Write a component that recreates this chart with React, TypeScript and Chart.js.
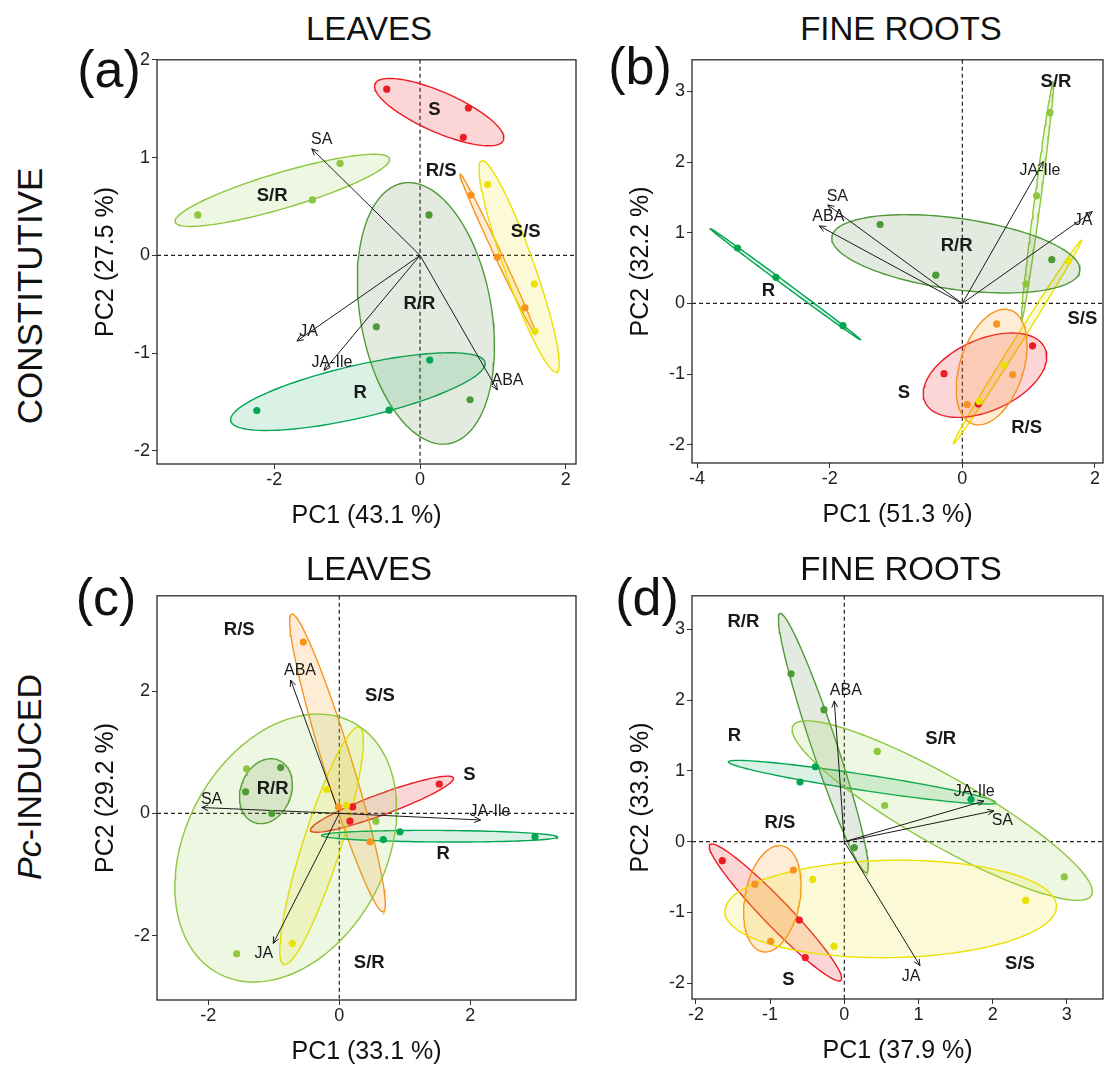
import React, { useEffect, useRef } from 'react';
import { Chart, registerables } from 'chart.js';

Chart.register(...registerables);

const FONT = '"Liberation Sans", Arial, Helvetica, sans-serif';

// Scion/rootstock groups, drawn in this order
const GROUPS = ['S/R', 'R/R', 'R', 'S/S', 'R/S', 'S'];

const GROUP_COLORS: Record<string, string> = {
  'S': '#ec1c24',
  'R/S': '#f7941d',
  'S/S': '#ebe100',
  'S/R': '#8dc63f',
  'R/R': '#4f9a38',
  'R': '#00a651',
};

const GROUP_FILLS: Record<string, string> = {
  'S': 'rgba(236,28,36,0.18)',
  'R/S': 'rgba(247,148,29,0.18)',
  'S/S': 'rgba(235,225,0,0.16)',
  'S/R': 'rgba(141,198,63,0.15)',
  'R/R': 'rgba(79,125,56,0.16)',
  'R': 'rgba(0,166,81,0.15)',
};

type Score = [string, number, number];
// group, centre x, centre y, major semi-axis x, major semi-axis y, minor/major ratio
type Ellipse = [string, number, number, number, number, number];
// hormone, arrow tip x, arrow tip y, label x, label y
type Loading = [string, number, number, number, number];
type GroupLabel = [string, number, number];

// ---------- (a) leaves, constitutive ----------
const leafConstXTicks = [-2, 0, 2];
const leafConstYTicks = [-2, -1, 0, 1, 2];
const leafConstScores: Score[] = [
  ['S', -0.457, 1.70], ['S', 0.663, 1.507], ['S', 0.594, 1.207],
  ['S/R', -3.05, 0.414], ['S/R', -1.477, 0.567], ['S/R', -1.097, 0.94],
  ['R/R', 0.123, 0.414], ['R/R', -0.60, -0.73], ['R/R', 0.686, -1.476],
  ['R', -2.24, -1.586], ['R', -0.425, -1.583], ['R', 0.133, -1.07],
  ['R/S', 0.70, 0.617], ['R/S', 1.06, -0.02], ['R/S', 1.44, -0.536],
  ['S/S', 0.928, 0.724], ['S/S', 1.568, -0.293], ['S/S', 1.578, -0.776],
];
const leafConstEllipses: Ellipse[] = [
  ['S/R', -1.89, 0.665, 1.47, 0.325, 0.163],
  ['R/R', 0.08, -0.593, -0.31, 1.333, 0.486],
  ['R', -0.853, -1.393, 1.745, 0.3, 0.205],
  ['S/S', 1.36, -0.113, -0.515, 1.08, 0.13],
  ['R/S', 1.063, 0.02, -0.515, 0.814, 0.04],
  ['S', 0.263, 1.465, 0.88, -0.29, 0.29],
];
const leafConstLoadings: Loading[] = [
  ['SA', -1.486, 1.09, -1.35, 1.18],
  ['JA', -1.69, -0.876, -1.53, -0.776],
  ['JA-Ile', -1.317, -1.176, -1.21, -1.10],
  ['ABA', 1.06, -1.376, 1.2, -1.276],
];
const leafConstGroupLabels: GroupLabel[] = [
  ['S', 0.196, 1.49], ['S/R', -2.03, 0.607], ['R/S', 0.288, 0.864],
  ['S/S', 1.45, 0.24], ['R/R', -0.01, -0.5], ['R', -0.823, -1.41],
];

// ---------- (b) fine roots, constitutive ----------
const rootConstXTicks = [-4, -2, 0, 2];
const rootConstYTicks = [-2, -1, 0, 1, 2, 3];
const rootConstScores: Score[] = [
  ['R', -3.39, 0.785], ['R', -2.81, 0.37], ['R', -1.80, -0.314],
  ['R/R', -1.24, 1.117], ['R/R', -0.40, 0.40], ['R/R', 1.35, 0.62],
  ['S/R', 0.96, 0.277], ['S/R', 1.12, 1.524], ['S/R', 1.323, 2.70],
  ['S/S', 1.60, 0.60], ['S/S', 0.634, -0.877], ['S/S', 0.252, -1.385],
  ['S', -0.276, -0.993], ['S', 1.06, -0.60], ['S', 0.242, -1.422],
  ['R/S', 0.518, -0.29], ['R/S', 0.76, -1.006], ['R/S', 0.075, -1.43],
];
const rootConstEllipses: Ellipse[] = [
  ['R/R', -0.097, 0.703, 1.87, -0.243, 0.29],
  ['R', -2.674, 0.277, -1.131, 0.785, 0.02],
  ['S/R', 1.134, 1.455, 0.238, 1.685, 0.025],
  ['R/S', 0.443, -0.90, 0.276, 0.808, 0.52],
  ['S', 0.342, -1.015, 0.902, 0.386, 0.55],
  ['S/S', 0.832, -0.543, 0.968, 1.443, 0.03],
];
const rootConstLoadings: Loading[] = [
  ['SA', -2.03, 1.395, -1.885, 1.514],
  ['ABA', -2.157, 1.098, -2.02, 1.223],
  ['JA-Ile', 1.222, 2.008, 1.17, 1.88],
  ['JA', 1.96, 1.30, 1.82, 1.17],
];
const rootConstGroupLabels: GroupLabel[] = [
  ['S/R', 1.413, 3.14], ['R/R', -0.085, 0.817], ['R', -2.926, 0.184],
  ['S/S', 1.81, -0.22], ['S', -0.88, -1.27], ['R/S', 0.97, -1.755],
];

// ---------- (c) leaves, Pc-induced ----------
const leafIndXTicks = [-2, 0, 2];
const leafIndYTicks = [-2, 0, 2];
const leafIndScores: Score[] = [
  ['R/S', -0.55, 2.80], ['R/S', 0.47, -0.465], ['R/S', -0.015, 0.106],
  ['S/S', -0.19, 0.39], ['S/S', -0.717, -2.125], ['S/S', 0.11, 0.133],
  ['S/R', -1.414, 0.727], ['S/R', -1.567, -2.295], ['S/R', 0.56, -0.128],
  ['R/R', -0.895, 0.748], ['R/R', -1.43, 0.353], ['R/R', -1.03, 0.0],
  ['S', 1.527, 0.48], ['S', 0.204, 0.106], ['S', 0.163, -0.128],
  ['R', 0.927, -0.30], ['R', 0.672, -0.428], ['R', 2.988, -0.385],
];
const leafIndEllipses: Ellipse[] = [
  ['S/R', -0.817, -0.567, 1.0, 2.067, 0.693],
  ['R/R', -1.12, 0.363, 0.178, 0.513, 0.74],
  ['R', 1.53, -0.373, 1.80, -0.012, 0.05],
  ['S/S', -0.27, -0.53, 0.575, 1.94, 0.15],
  ['R/S', -0.027, 0.825, -0.70, 2.435, 0.09],
  ['S', 0.652, 0.15, 1.09, 0.43, 0.14],
];
const leafIndLoadings: Loading[] = [
  ['ABA', -0.742, 2.18, -0.60, 2.34],
  ['SA', -2.10, 0.096, -1.95, 0.23],
  ['JA-Ile', 2.158, -0.108, 2.30, 0.026],
  ['JA', -1.008, -2.125, -1.15, -2.285],
];
const leafIndGroupLabels: GroupLabel[] = [
  ['R/S', -1.527, 2.995], ['S/S', 0.621, 1.915], ['S', 1.985, 0.63],
  ['R/R', -1.017, 0.406], ['R', 1.588, -0.664], ['S/R', 0.458, -2.446],
];

// ---------- (d) fine roots, Pc-induced ----------
const rootIndXTicks = [-2, -1, 0, 1, 2, 3];
const rootIndYTicks = [-2, -1, 0, 1, 2, 3];
const rootIndScores: Score[] = [
  ['R/R', -0.718, 2.373], ['R/R', -0.274, 1.867], ['R/R', 0.135, -0.083],
  ['R', -0.597, 0.843], ['R', -0.39, 1.06], ['R', 1.708, 0.6],
  ['S/R', 0.445, 1.277], ['S/R', 0.544, 0.512], ['S/R', 2.965, -0.498],
  ['S/S', -0.426, -0.531], ['S/S', -0.139, -1.476], ['S/S', 2.444, -0.83],
  ['S', -1.644, -0.268], ['S', -0.606, -1.107], ['S', -0.526, -1.637],
  ['R/S', -0.687, -0.401], ['R/S', -1.204, -0.60], ['R/S', -0.992, -1.407],
];
const rootIndEllipses: Ellipse[] = [
  ['S/S', 0.625, -0.95, 2.235, 0.04, 0.3],
  ['S/R', 1.32, 0.44, 2.01, -1.20, 0.2],
  ['R/R', -0.283, 1.395, -0.584, 1.832, 0.09],
  ['R', 0.24, 0.841, 1.80, -0.288, 0.06],
  ['R/S', -0.97, -0.807, 0.129, 0.749, 0.5],
  ['S', -0.927, -1.0, 0.883, -0.96, 0.14],
];
const rootIndLoadings: Loading[] = [
  ['ABA', -0.135, 1.99, 0.02, 2.13],
  ['JA-Ile', 1.883, 0.575, 1.75, 0.705],
  ['SA', 2.017, 0.437, 2.13, 0.30],
  ['JA', 1.02, -1.752, 0.9, -1.905],
];
const rootIndGroupLabels: GroupLabel[] = [
  ['R/R', -1.36, 3.10], ['R', -1.48, 1.50], ['S/R', 1.30, 1.45],
  ['R/S', -0.867, 0.267], ['S', -0.755, -1.96], ['S/S', 2.368, -1.729],
];

// ---------- layout ----------
const AX_W = 70; // room left of the plot for y ticks and title
const AX_H = 70; // room below the plot for x ticks and title
const PAD_T = 4;
const PAD_R = 3;

interface PanelSpec {
  rect: [number, number, number, number]; // plot area: left, top, right, bottom
  xRange: [number, number];
  yRange: [number, number];
  xTicks: number[];
  yTicks: number[];
  xTitle: string;
  yTitle: string;
  scores: Score[];
  ellipses: Ellipse[];
  loadings: Loading[];
  groupLabels: GroupLabel[];
}

const PANELS: PanelSpec[] = [
  {
    rect: [157, 51, 576, 464], xRange: [-3.61, 2.14], yRange: [-2.133, 2.0],
    xTicks: leafConstXTicks, yTicks: leafConstYTicks,
    xTitle: 'PC1 (43.1 %)', yTitle: 'PC2 (27.5 %)',
    scores: leafConstScores, ellipses: leafConstEllipses,
    loadings: leafConstLoadings, groupLabels: leafConstGroupLabels,
  },
  {
    rect: [692, 51, 1103, 463], xRange: [-4.077, 2.122], yRange: [-2.258, 3.449],
    xTicks: rootConstXTicks, yTicks: rootConstYTicks,
    xTitle: 'PC1 (51.3 %)', yTitle: 'PC2 (32.2 %)',
    scores: rootConstScores, ellipses: rootConstEllipses,
    loadings: rootConstLoadings, groupLabels: rootConstGroupLabels,
  },
  {
    rect: [157, 587, 576, 1000], xRange: [-2.783, 3.614], yRange: [-3.051, 3.557],
    xTicks: leafIndXTicks, yTicks: leafIndYTicks,
    xTitle: 'PC1 (33.1 %)', yTitle: 'PC2 (29.2 %)',
    scores: leafIndScores, ellipses: leafIndEllipses,
    loadings: leafIndLoadings, groupLabels: leafIndGroupLabels,
  },
  {
    rect: [692, 587, 1103, 999], xRange: [-2.053, 3.487], yRange: [-2.223, 3.476],
    xTicks: rootIndXTicks, yTicks: rootIndYTicks,
    xTitle: 'PC1 (37.9 %)', yTitle: 'PC2 (33.9 %)',
    scores: rootIndScores, ellipses: rootIndEllipses,
    loadings: rootIndLoadings, groupLabels: rootIndGroupLabels,
  },
];

// Outline of a confidence ellipse; the minor axis is kept perpendicular on screen
// by correcting with k, the ratio of y to x pixels per unit.
function ellipseOutline(e: Ellipse, k: number) {
  const [, cx, cy, ux, uy, r] = e;
  const vx = r * k * uy;
  const vy = (-r * ux) / k;
  const pts: { x: number; y: number }[] = [];
  const n = 120;
  for (let i = 0; i <= n; i++) {
    const t = (i / n) * Math.PI * 2;
    pts.push({
      x: cx + ux * Math.cos(t) + vx * Math.sin(t),
      y: cy + uy * Math.cos(t) + vy * Math.sin(t),
    });
  }
  return pts;
}

function buildConfig(p: PanelSpec): any {
  const [L, T, R, B] = p.rect;
  const k = ((B - T) / (p.yRange[1] - p.yRange[0])) / ((R - L) / (p.xRange[1] - p.xRange[0]));

  const datasets: any[] = [];
  p.ellipses.forEach((e) => {
    datasets.push({
      type: 'line',
      data: ellipseOutline(e, k),
      borderColor: GROUP_COLORS[e[0]],
      backgroundColor: GROUP_FILLS[e[0]],
      borderWidth: 1.4,
      fill: 'shape',
      pointRadius: 0,
      tension: 0,
      order: 3,
    });
  });
  p.loadings.forEach((a) => {
    datasets.push({
      type: 'line',
      data: [{ x: 0, y: 0 }, { x: a[1], y: a[2] }],
      borderColor: '#1a1a1a',
      borderWidth: 1,
      pointRadius: 0,
      fill: false,
      order: 2,
    });
  });
  GROUPS.forEach((g) => {
    const pts = p.scores.filter((s) => s[0] === g);
    if (!pts.length) return;
    datasets.push({
      type: 'scatter',
      data: pts.map((s) => ({ x: s[1], y: s[2] })),
      backgroundColor: GROUP_COLORS[g],
      borderWidth: 0,
      pointRadius: 3.6,
      order: 1,
    });
  });

  const overlay = {
    id: 'biplotOverlay',
    beforeDatasetsDraw(chart: any) {
      const { ctx, chartArea: ca, scales } = chart;
      const x0 = scales.x.getPixelForValue(0);
      const y0 = scales.y.getPixelForValue(0);
      ctx.save();
      ctx.strokeStyle = '#222';
      ctx.lineWidth = 1.2;
      ctx.setLineDash([4, 3]);
      ctx.beginPath();
      ctx.moveTo(x0, ca.top);
      ctx.lineTo(x0, ca.bottom);
      ctx.moveTo(ca.left, y0);
      ctx.lineTo(ca.right, y0);
      ctx.stroke();
      ctx.restore();
    },
    afterDatasetsDraw(chart: any) {
      const { ctx, scales } = chart;
      const xs = scales.x;
      const ys = scales.y;
      const ox = xs.getPixelForValue(0);
      const oy = ys.getPixelForValue(0);
      ctx.save();
      ctx.strokeStyle = '#1a1a1a';
      ctx.fillStyle = '#1a1a1a';
      ctx.lineWidth = 1;
      ctx.textAlign = 'center';
      ctx.textBaseline = 'middle';
      p.loadings.forEach(([name, tx, ty, lx, ly]) => {
        const px = xs.getPixelForValue(tx);
        const py = ys.getPixelForValue(ty);
        const ang = Math.atan2(py - oy, px - ox);
        const len = 7;
        ctx.beginPath();
        ctx.moveTo(px - len * Math.cos(ang - 0.42), py - len * Math.sin(ang - 0.42));
        ctx.lineTo(px, py);
        ctx.lineTo(px - len * Math.cos(ang + 0.42), py - len * Math.sin(ang + 0.42));
        ctx.stroke();
        ctx.font = `16px ${FONT}`;
        ctx.fillText(name, xs.getPixelForValue(lx), ys.getPixelForValue(ly));
      });
      ctx.font = `bold 18.5px ${FONT}`;
      p.groupLabels.forEach(([name, lx, ly]) => {
        ctx.fillText(name, xs.getPixelForValue(lx), ys.getPixelForValue(ly));
      });
      ctx.restore();
    },
    afterDraw(chart: any) {
      const { ctx, chartArea: ca } = chart;
      ctx.save();
      ctx.strokeStyle = '#2a2a2a';
      ctx.lineWidth = 1.3;
      ctx.strokeRect(ca.left, ca.top, ca.right - ca.left, ca.bottom - ca.top);
      ctx.restore();
    },
  };

  const tickFont = { family: FONT, size: 18 };
  const titleFont = { family: FONT, size: 25 };
  const grid = {
    display: true,
    drawOnChartArea: false,
    drawTicks: true,
    tickLength: 5,
    color: '#333',
    tickColor: '#333',
    tickWidth: 1,
  };

  return {
    type: 'scatter',
    data: { datasets },
    plugins: [overlay],
    options: {
      animation: false,
      responsive: false,
      maintainAspectRatio: false,
      events: [],
      layout: { autoPadding: false, padding: { top: PAD_T, right: PAD_R, left: 0, bottom: 0 } },
      plugins: {
        legend: { display: false },
        tooltip: { enabled: false },
        title: { display: false },
      },
      scales: {
        x: {
          type: 'linear',
          position: 'bottom',
          min: p.xRange[0],
          max: p.xRange[1],
          afterFit: (s: any) => { s.height = AX_H; },
          afterBuildTicks: (s: any) => { s.ticks = p.xTicks.map((v) => ({ value: v })); },
          grid,
          border: { display: false },
          ticks: {
            color: '#222', font: tickFont, padding: 0, maxRotation: 0, autoSkip: false,
            callback: (v: any) => String(v),
          },
          title: { display: true, text: p.xTitle, color: '#111', font: titleFont, padding: { top: 0, bottom: 3 } },
        },
        y: {
          type: 'linear',
          position: 'left',
          min: p.yRange[0],
          max: p.yRange[1],
          afterFit: (s: any) => { s.width = AX_W; },
          afterBuildTicks: (s: any) => { s.ticks = p.yTicks.map((v) => ({ value: v })); },
          grid,
          border: { display: false },
          ticks: {
            color: '#222', font: tickFont, padding: 2, autoSkip: false,
            callback: (v: any) => String(v),
          },
          title: { display: true, text: p.yTitle, color: '#111', font: titleFont, padding: { top: 4, bottom: 0 } },
        },
      },
    },
  };
}

function Biplot({ panel }: { panel: PanelSpec }) {
  const ref = useRef<HTMLCanvasElement>(null);
  const [L, T, R, B] = panel.rect;
  const w = R - L + AX_W + PAD_R;
  const h = B - T + PAD_T + AX_H;
  useEffect(() => {
    const chart = new Chart(ref.current as HTMLCanvasElement, buildConfig(panel));
    return () => chart.destroy();
  }, [panel]);
  return (
    <canvas
      ref={ref}
      width={w}
      height={h}
      style={{ position: 'absolute', left: L - AX_W, top: T - PAD_T, width: w, height: h }}
    />
  );
}

const textBase: React.CSSProperties = {
  position: 'absolute',
  fontFamily: FONT,
  color: '#111',
  whiteSpace: 'nowrap',
  lineHeight: 1,
  transform: 'translate(-50%, -50%)',
};

function Label({ x, y, size, rotate, children }: { x: number; y: number; size: number; rotate?: boolean; children: React.ReactNode }) {
  return (
    <div
      style={{
        ...textBase,
        left: x,
        top: y,
        fontSize: size,
        transform: rotate ? 'translate(-50%, -50%) rotate(-90deg)' : textBase.transform,
      }}
    >
      {children}
    </div>
  );
}

export default function App() {
  return (
    <div style={{ position: 'absolute', left: 0, top: 0, width: 1106, height: 1070, background: '#fff', overflow: 'hidden' }}>
      {PANELS.map((p, i) => (
        <Biplot key={i} panel={p} />
      ))}
      <Label x={369} y={28} size={33}>LEAVES</Label>
      <Label x={901} y={28} size={33}>FINE ROOTS</Label>
      <Label x={369} y={568} size={33}>LEAVES</Label>
      <Label x={901} y={568} size={33}>FINE ROOTS</Label>
      <Label x={109} y={69} size={52}>(a)</Label>
      <Label x={640} y={66} size={52}>(b)</Label>
      <Label x={106} y={597} size={52}>(c)</Label>
      <Label x={647} y={597} size={52}>(d)</Label>
      <Label x={29} y={296} size={35} rotate>CONSTITUTIVE</Label>
      <Label x={29} y={777} size={34} rotate>
        <i>Pc</i>-INDUCED
      </Label>
    </div>
  );
}
